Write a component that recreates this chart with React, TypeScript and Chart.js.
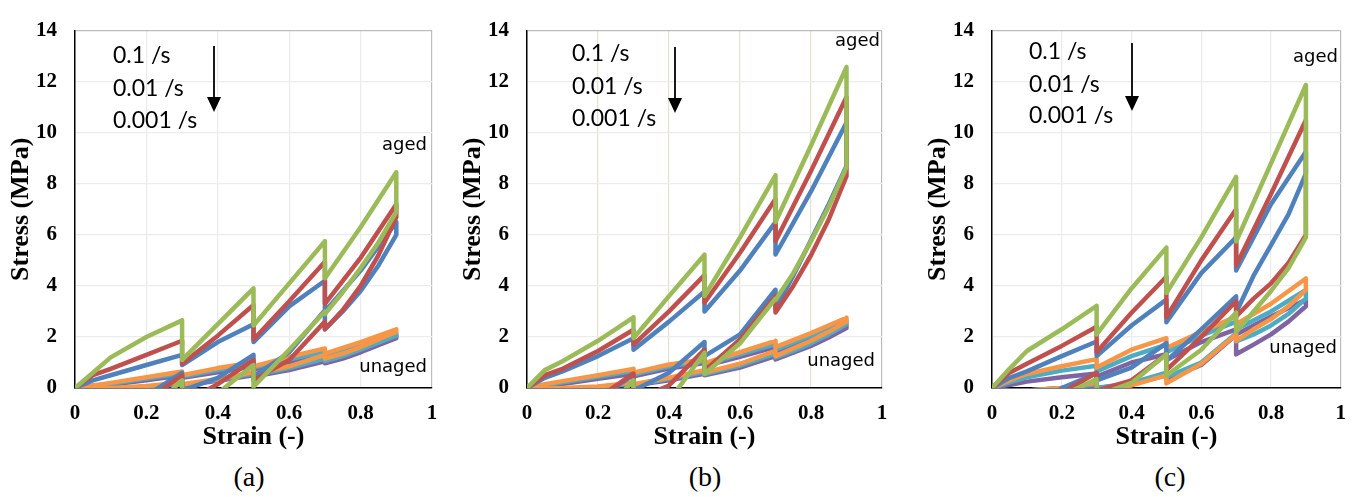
import React, { useEffect, useRef } from 'react';
import { Chart, registerables } from 'chart.js';

Chart.register(...registerables);

// Strain path shared by every curve: stepwise loading with relaxation holds,
// then stepwise unloading with recovery holds.
const strainPath = [0, 0.05, 0.1, 0.2, 0.3, 0.3, 0.4, 0.5, 0.5, 0.6, 0.7, 0.7, 0.8, 0.9, 0.9, 0.85, 0.8, 0.75, 0.7, 0.7, 0.6, 0.5, 0.5, 0.4, 0.3, 0.3, 0.2, 0.1, 0];

// Panel (a)
const aGreen = [0, 0.6, 1.2, 2.0, 2.65, 1.1, 2.5, 3.9, 2.45, 4.1, 5.75, 4.3, 6.3, 8.45, 6.9, 5.7, 4.7, 3.75, 2.9, 3.0, 1.5, 0.05, 0.9, -0.2, -1.2, 0.3, -1.0, -2, -3];
const aRed = [0, 0.5, 0.75, 1.3, 1.85, 0.95, 2.05, 3.25, 1.9, 3.4, 4.95, 3.3, 5.1, 7.2, 6.7, 5.2, 4.0, 3.05, 2.3, 2.6, 1.1, 0.3, 1.1, 0.15, -0.6, 0.5, -0.5, -1.5, -2.5];
const aBlue = [0, 0.3, 0.5, 0.9, 1.3, 0.9, 1.8, 2.5, 1.8, 3.2, 4.2, 3.0, 4.6, 6.5, 6.0, 4.8, 3.8, 3.0, 2.3, 3.05, 1.4, 0.45, 1.3, 0.4, -0.1, 0.6, -0.3, -1.3, -2.3];
const aOrange = [0, 0.1, 0.2, 0.42, 0.65, 0.5, 0.78, 1.0, 0.85, 1.22, 1.55, 1.35, 1.8, 2.3, 2.2, 1.9, 1.6, 1.35, 1.15, 1.3, 0.85, 0.55, 0.62, 0.35, 0.15, 0.22, 0.08, 0.0, -0.05];
const aCyan = [0, 0.08, 0.17, 0.37, 0.57, 0.45, 0.7, 0.93, 0.8, 1.12, 1.42, 1.25, 1.68, 2.15, 2.05, 1.78, 1.5, 1.25, 1.05, 1.15, 0.78, 0.5, 0.56, 0.32, 0.12, 0.18, 0.05, -0.03, -0.08];
const aPurple = [0, 0.06, 0.13, 0.3, 0.5, 0.4, 0.62, 0.85, 0.72, 1.02, 1.3, 1.15, 1.55, 2.05, 1.95, 1.68, 1.4, 1.15, 0.97, 1.05, 0.7, 0.45, 0.5, 0.28, 0.1, 0.15, 0.03, -0.05, -0.1];

// Panel (b)
const bGreen = [0, 0.7, 1.05, 1.85, 2.77, 1.95, 3.6, 5.22, 3.6, 5.9, 8.33, 6.5, 9.5, 12.57, 8.65, 7.1, 5.75, 4.5, 3.45, 3.5, 1.75, 0.55, 1.38, -0.5, -1.5, 0.3, -1.2, -2.2, -3];
const bRed = [0, 0.5, 0.75, 1.45, 2.28, 1.7, 3.0, 4.42, 3.34, 5.3, 7.4, 5.75, 8.5, 11.4, 8.3, 6.6, 5.2, 4.0, 2.96, 3.6, 1.9, 0.68, 1.5, 0.1, -0.5, 0.57, -0.4, -1.4, -2.4];
const bBlue = [0, 0.4, 0.65, 1.25, 1.95, 1.5, 2.6, 3.78, 3.0, 4.6, 6.5, 5.23, 7.7, 10.4, 8.7, 7.2, 5.8, 4.4, 3.1, 3.85, 2.1, 1.25, 1.8, 0.6, -0.1, 0.5, -0.4, -1.3, -2.3];
const bOrange = [0, 0.15, 0.27, 0.5, 0.75, 0.6, 0.92, 1.12, 0.97, 1.4, 1.85, 1.6, 2.15, 2.75, 2.6, 2.2, 1.85, 1.55, 1.25, 1.45, 0.95, 0.6, 0.7, 0.4, 0.15, 0.22, 0.06, 0.0, -0.05];
const bCyan = [0, 0.1, 0.22, 0.44, 0.66, 0.53, 0.85, 1.05, 0.92, 1.32, 1.72, 1.5, 2.05, 2.62, 2.5, 2.1, 1.75, 1.45, 1.2, 1.35, 0.88, 0.55, 0.63, 0.36, 0.12, 0.18, 0.04, -0.03, -0.08];
const bPurple = [0, 0.07, 0.16, 0.36, 0.56, 0.46, 0.76, 0.98, 0.86, 1.22, 1.6, 1.42, 1.92, 2.45, 2.35, 1.98, 1.65, 1.38, 1.12, 1.25, 0.8, 0.5, 0.56, 0.3, 0.1, 0.15, 0.03, -0.05, -0.1];

// Panel (c)
const cGreen = [0, 0.75, 1.45, 2.3, 3.22, 2.1, 3.9, 5.5, 3.72, 5.9, 8.27, 5.74, 8.8, 11.87, 5.9, 4.7, 3.8, 3.0, 2.2, 2.96, 1.5, 0.49, 1.32, 0.2, -0.3, 0.35, -0.3, -1.3, -2.3];
const cRed = [0, 0.6, 0.95, 1.65, 2.4, 1.4, 2.95, 4.36, 2.77, 5.0, 7.0, 4.8, 7.6, 10.5, 6.0, 4.9, 4.1, 3.5, 2.8, 3.4, 2.0, 0.7, 1.32, 0.3, -0.1, 0.6, -0.2, -1.2, -2.2];
const cBlue = [0, 0.4, 0.65, 1.25, 1.82, 1.25, 2.45, 3.46, 2.58, 4.5, 5.9, 4.6, 7.2, 9.25, 8.4, 6.8, 5.6, 4.4, 2.96, 3.59, 2.3, 1.06, 1.76, 0.8, 0.3, 0.57, 0.0, -1.0, -2.0];
const cOrange = [0, 0.3, 0.55, 0.85, 1.13, 0.8, 1.5, 1.95, 1.57, 2.2, 2.8, 2.5, 3.3, 4.29, 3.84, 3.2, 2.7, 2.3, 1.85, 2.1, 0.95, 0.18, 0.5, 0.1, -0.1, 0.2, 0.0, -0.1, -0.2];
const cCyan = [0, 0.22, 0.42, 0.68, 0.87, 0.65, 1.25, 1.7, 1.4, 2.05, 2.6, 2.3, 3.0, 3.84, 3.5, 2.9, 2.45, 2.1, 1.82, 2.14, 1.0, 0.43, 0.6, 0.2, 0.0, 0.15, 0.0, -0.1, -0.2];
const cPurple = [0, 0.12, 0.25, 0.42, 0.57, 0.45, 1.0, 1.32, 1.1, 1.8, 2.3, 2.1, 2.8, 3.46, 3.2, 2.6, 2.1, 1.7, 1.32, 2.08, 0.9, 0.35, 0.5, 0.15, 0.0, 0.1, 0.0, -0.1, -0.2];

const xTicks = [0, 0.2, 0.4, 0.6, 0.8, 1];
const yTicks = [0, 2, 4, 6, 8, 10, 12, 14];
const rateLabels = ['0.1 /s', '0.01 /s', '0.001 /s'];
const agedLabel = 'aged';
const unagedLabel = 'unaged';
const xTitle = 'Strain (-)';
const yTitle = 'Stress (MPa)';

const COLORS = {
  green: '#9BBB59',
  red: '#C0504D',
  blue: '#4F81BD',
  orange: '#F79646',
  cyan: '#4BACC6',
  purple: '#8064A2',
};

const SERIF = "'Liberation Serif', 'Times New Roman', serif";

type Spec = {
  caption: string;
  captionX: number;
  plotLeft: number;
  plotRight: number;
  series: { color: string; values: number[] }[];
  rateX: number;
  rateBase: number[];
  arrowX: number;
  arrowTop: number;
  arrowTip: number;
  agedPos: [number, number];
  unagedPos: [number, number];
  xGridColor: string;
};

const PANELS: Spec[] = [
  {
    caption: '(a)', captionX: 249, plotLeft: 75, plotRight: 432,
    series: [
      { color: COLORS.green, values: aGreen },
      { color: COLORS.red, values: aRed },
      { color: COLORS.blue, values: aBlue },
      { color: COLORS.orange, values: aOrange },
      { color: COLORS.cyan, values: aCyan },
      { color: COLORS.purple, values: aPurple },
    ],
    rateX: 113, rateBase: [63, 96, 128], arrowX: 214, arrowTop: 46, arrowTip: 112,
    agedPos: [427, 150], unagedPos: [427, 372], xGridColor: '#ebebeb',
  },
  {
    caption: '(b)', captionX: 705, plotLeft: 527, plotRight: 882,
    series: [
      { color: COLORS.green, values: bGreen },
      { color: COLORS.red, values: bRed },
      { color: COLORS.blue, values: bBlue },
      { color: COLORS.orange, values: bOrange },
      { color: COLORS.cyan, values: bCyan },
      { color: COLORS.purple, values: bPurple },
    ],
    rateX: 572, rateBase: [61, 94, 126], arrowX: 675, arrowTop: 47, arrowTip: 113,
    agedPos: [880, 46], unagedPos: [875, 366], xGridColor: '#e4e1cf',
  },
  {
    caption: '(c)', captionX: 1170, plotLeft: 992, plotRight: 1347,
    series: [
      { color: COLORS.green, values: cGreen },
      { color: COLORS.red, values: cRed },
      { color: COLORS.blue, values: cBlue },
      { color: COLORS.orange, values: cOrange },
      { color: COLORS.cyan, values: cCyan },
      { color: COLORS.purple, values: cPurple },
    ],
    rateX: 1029, rateBase: [59, 92, 123], arrowX: 1132, arrowTop: 43, arrowTip: 111,
    agedPos: [1338, 62], unagedPos: [1337, 353], xGridColor: '#ebebeb',
  },
];

const PLOT_TOP = 19;
const PLOT_BOTTOM = 388;
const CANVAS_H = 455;
const Y_AXIS_W = 75;
const X_AXIS_H = 65;

function Panel({ spec }: { spec: Spec }) {
  const ref = useRef<HTMLCanvasElement | null>(null);
  const canvasLeft = spec.plotLeft - Y_AXIS_W;
  const canvasRight = Math.min(1359, spec.plotRight + 21);
  const canvasW = canvasRight - canvasLeft;
  const padRight = canvasRight - spec.plotRight;

  useEffect(() => {
    if (!ref.current) return;
    const annot = {
      id: 'annot',
      afterDraw(chart: any) {
        const ctx = chart.ctx as CanvasRenderingContext2D;
        const ox = canvasLeft;
        ctx.save();
        ctx.fillStyle = '#000';
        ctx.strokeStyle = '#000';
        ctx.font = "23px Lato, 'Open Sans', sans-serif";
        ctx.textAlign = 'left';
        ctx.textBaseline = 'alphabetic';
        rateLabels.forEach((t, i) => ctx.fillText(t, spec.rateX - ox, spec.rateBase[i]));
        const ax = spec.arrowX - ox;
        ctx.lineWidth = 1.8;
        ctx.beginPath();
        ctx.moveTo(ax, spec.arrowTop);
        ctx.lineTo(ax, spec.arrowTip - 12);
        ctx.stroke();
        ctx.beginPath();
        ctx.moveTo(ax - 7, spec.arrowTip - 15);
        ctx.lineTo(ax + 7, spec.arrowTip - 15);
        ctx.lineTo(ax, spec.arrowTip);
        ctx.closePath();
        ctx.fill();
        ctx.font = "18px 'DejaVu Sans', sans-serif";
        ctx.textAlign = 'right';
        ctx.fillText(agedLabel, spec.agedPos[0] - ox, spec.agedPos[1]);
        ctx.fillText(unagedLabel, spec.unagedPos[0] - ox, spec.unagedPos[1]);
        ctx.restore();
      },
    };
    const chart = new Chart(ref.current, {
      type: 'scatter',
      data: {
        datasets: spec.series.map((s) => ({
          data: s.values.map((v, i) => ({ x: strainPath[i], y: v })),
          showLine: true,
          borderColor: s.color,
          backgroundColor: s.color,
          borderWidth: 4.5,
          pointRadius: 0,
          pointHoverRadius: 0,
          tension: 0,
          borderJoinStyle: 'round',
          borderCapStyle: 'round',
        })),
      },
      options: {
        animation: false,
        responsive: false,
        devicePixelRatio: 1,
        events: [],
        layout: { padding: { left: 0, top: PLOT_TOP, right: padRight, bottom: CANVAS_H - PLOT_BOTTOM - X_AXIS_H } },
        plugins: { legend: { display: false }, tooltip: { enabled: false }, title: { display: false } },
        scales: {
          x: {
            type: 'linear',
            min: 0,
            max: 1,
            afterBuildTicks: (axis: any) => { axis.ticks = xTicks.map((v) => ({ value: v })); },
            afterFit: (axis: any) => { axis.height = X_AXIS_H; },
            ticks: {
              padding: 13,
              color: '#000',
              font: { family: SERIF, size: 21, weight: 'bold' },
              callback: (v: any) => String(v),
            },
            grid: {
              drawTicks: false,
              color: (c: any) => (c.tick && c.tick.value === 1 ? '#bdbdbd' : spec.xGridColor),
              lineWidth: 1.2,
            },
            border: { display: true, color: '#000', width: 1.5 },
            title: {
              display: true,
              text: xTitle,
              color: '#000',
              font: { family: SERIF, size: 26, weight: 'bold' },
              padding: { top: 0, bottom: 0 },
            },
          },
          y: {
            type: 'linear',
            min: 0,
            max: 14,
            afterBuildTicks: (axis: any) => { axis.ticks = yTicks.map((v) => ({ value: v })); },
            afterFit: (axis: any) => { axis.width = Y_AXIS_W; },
            ticks: {
              padding: 18,
              color: '#000',
              font: { family: SERIF, size: 21, weight: 'bold' },
              callback: (v: any) => String(v),
            },
            grid: {
              drawTicks: false,
              color: (c: any) => (c.tick && c.tick.value === 14 ? '#bdbdbd' : '#ececec'),
              lineWidth: 1.2,
            },
            border: { display: true, color: '#000', width: 1.5 },
            title: {
              display: true,
              text: yTitle,
              color: '#000',
              font: { family: SERIF, size: 26, weight: 'bold' },
              padding: { top: 6, bottom: 0 },
            },
          },
        },
      } as any,
      plugins: [annot],
    });
    return () => chart.destroy();
  }, []);

  return (
    <>
      <canvas
        ref={ref}
        width={canvasW}
        height={CANVAS_H}
        style={{ position: 'absolute', left: canvasLeft, top: 0, width: canvasW, height: CANVAS_H }}
      />
      <div
        style={{
          position: 'absolute',
          left: spec.captionX - 40,
          width: 80,
          top: 461,
          textAlign: 'center',
          fontFamily: SERIF,
          fontSize: 28,
          lineHeight: '32px',
          color: '#000',
        }}
      >
        {spec.caption}
      </div>
    </>
  );
}

export default function App() {
  return (
    <div style={{ position: 'absolute', left: 0, top: 0, width: 1359, height: 497, background: '#fff', overflow: 'hidden' }}>
      {PANELS.map((p) => (
        <Panel key={p.caption} spec={p} />
      ))}
    </div>
  );
}
